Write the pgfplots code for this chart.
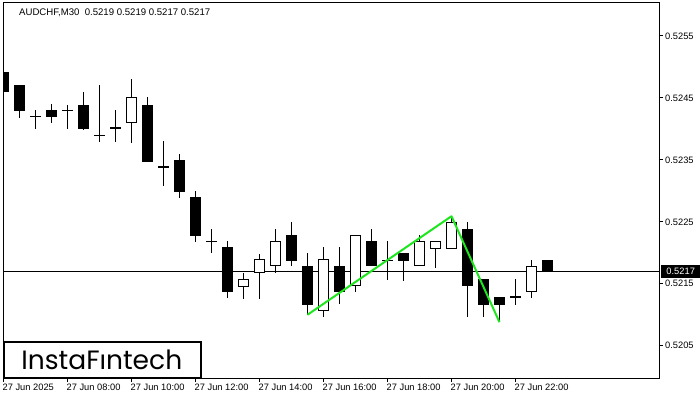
\documentclass[border=0pt]{standalone}
\usepackage{pgfplots}
\pgfplotsset{compat=1.18}
\usepackage{pgfplotstable}
\usepackage{fontspec}
\setmainfont{Liberation Sans}
\newfontfamily\logofont{Poppins}

\definecolor{zz}{RGB}{30,230,30}

% bearish (black) candles and dojis: index, open, high, low, close
\pgfplotstableread{
k o h l c
0 0.52492 0.52521 0.52452 0.52460
1 0.52471 0.52471 0.52419 0.52429
2 0.52421 0.52431 0.52400 0.52421
3 0.52431 0.52440 0.52410 0.52419
4 0.52431 0.52440 0.52400 0.52431
5 0.52440 0.52461 0.52400 0.52400
6 0.52390 0.52471 0.52379 0.52390
7 0.52402 0.52431 0.52379 0.52402
9 0.52440 0.52452 0.52348 0.52348
10 0.52340 0.52381 0.52308 0.52340
11 0.52350 0.52360 0.52290 0.52298
12 0.52290 0.52300 0.52218 0.52227
13 0.52219 0.52239 0.52200 0.52219
14 0.52210 0.52219 0.52127 0.52137
18 0.52229 0.52250 0.52179 0.52187
19 0.52179 0.52200 0.52100 0.52116
21 0.52179 0.52210 0.52118 0.52137
23 0.52219 0.52239 0.52179 0.52179
24 0.52189 0.52219 0.52156 0.52189
25 0.52200 0.52200 0.52156 0.52187
29 0.52239 0.52250 0.52097 0.52147
30 0.52158 0.52158 0.52097 0.52116
31 0.52129 0.52129 0.52089 0.52116
32 0.52129 0.52158 0.52116 0.52129
34 0.52190 0.52190 0.52170 0.52170
}\bear

% bullish (white) candles
\pgfplotstableread{
k o h l c
8 0.52411 0.52482 0.52379 0.52452
15 0.52147 0.52169 0.52127 0.52158
16 0.52169 0.52200 0.52127 0.52189
17 0.52179 0.52239 0.52169 0.52219
20 0.52108 0.52210 0.52097 0.52189
22 0.52148 0.52229 0.52137 0.52229
26 0.52179 0.52229 0.52179 0.52219
27 0.52208 0.52219 0.52177 0.52219
28 0.52208 0.52258 0.52208 0.52250
33 0.52139 0.52189 0.52127 0.52179
}\bull

\pgfplotsset{candle/.style={draw=none, mark=none, error bars/.cd, y dir=both, y explicit, error mark=none}}

\begin{document}
\begin{tikzpicture}[x=1pt,y=1pt]
\useasboundingbox (0,0) rectangle (700,400);
\begin{axis}[
  at={(3pt,22pt)}, anchor=south west,
  scale only axis, width=656pt, height=375pt,
  xmin=-0.03, xmax=40.97,
  ymin=0.51998, ymax=0.52603,
  axis line style={line width=1pt, black},
  every tick/.style={black, line width=1pt},
  tick align=outside, major tick length=4pt,
  xtick pos=bottom, ytick pos=right, yticklabel pos=right,
  xtick={0,4,8,12,16,20,24,28,32},
  xticklabels={27 Jun 2025,27 Jun 08:00,27 Jun 10:00,27 Jun 12:00,27 Jun 14:00,27 Jun 16:00,27 Jun 18:00,27 Jun 20:00,27 Jun 22:00},
  xticklabel style={anchor=north west, inner sep=0pt, xshift=-1pt, yshift=-2pt, font=\fontsize{9.3}{11}\selectfont},
  ytick={0.5205,0.5215,0.5225,0.5235,0.5245,0.5255},
  scaled y ticks=false,
  yticklabel style={anchor=west, inner sep=0pt, xshift=2pt, font=\fontsize{9.3}{11}\selectfont,
    /pgf/number format/.cd, fixed, fixed zerofill, precision=4, assume math mode=true},
  clip=true,
]
% current price line
\addplot[black, line width=1pt] coordinates {(-1,0.5217) (42,0.5217)};
% wicks
\addplot[candle, error bar style={line width=1pt, draw=black}]
  table[x=k, y expr=(\thisrow{h}+\thisrow{l})/2, y error expr=(\thisrow{h}-\thisrow{l})/2] {\bear};
\addplot[candle, error bar style={line width=1pt, draw=black}]
  table[x=k, y expr=(\thisrow{h}+\thisrow{l})/2, y error expr=(\thisrow{h}-\thisrow{l})/2] {\bull};
% black bodies
\addplot[candle, error bar style={line width=11pt, draw=black}]
  table[x=k, y expr=(\thisrow{o}+\thisrow{c})/2, y error expr={max(abs(\thisrow{o}-\thisrow{c})/2,0.0000081)}] {\bear};
% white bodies: black outline then white fill
\addplot[candle, error bar style={line width=11pt, draw=black}]
  table[x=k, y expr=(\thisrow{o}+\thisrow{c})/2, y error expr={abs(\thisrow{c}-\thisrow{o})/2+0.0000081}] {\bull};
\addplot[candle, error bar style={line width=9pt, draw=white}]
  table[x=k, y expr=(\thisrow{o}+\thisrow{c})/2, y error expr={abs(\thisrow{c}-\thisrow{o})/2-0.0000081}] {\bull};
% double-top pattern line
\addplot[zz, line width=2pt, line join=round] coordinates {(19,0.52100) (28,0.52259) (31,0.52088)};
\end{axis}
% title
\node[anchor=base west, inner sep=0pt, font=\fontsize{9.6}{11}\selectfont] at (19,384.7) {AUDCHF,M30\ \ 0.5219 0.5219 0.5217 0.5217};
% current price label
\node[anchor=west, fill=black, text=white, inner sep=0pt, minimum height=13pt, minimum width=39pt,
  font=\fontsize{9.3}{11}\selectfont] at (661,128.4) {0.5217};
% logo
\draw[line width=2pt, fill=white] (4,22) rectangle (201,58.5);
\node[anchor=base, inner sep=0pt, font=\logofont\fontsize{26.5}{30}\selectfont] at (101.8,30.7) {InstaFıntech};
\end{tikzpicture}
\end{document}
